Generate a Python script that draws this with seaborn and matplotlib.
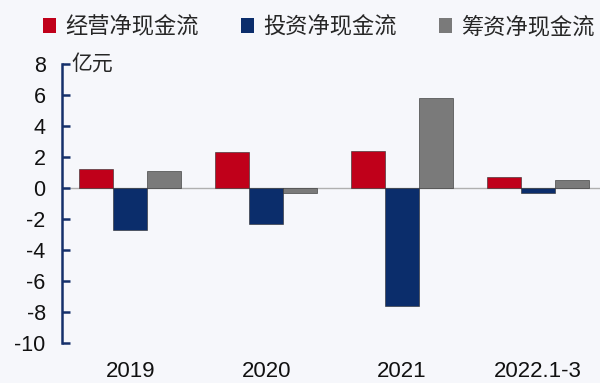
import matplotlib
matplotlib.use("Agg")
import matplotlib.pyplot as plt
import seaborn as sns
import pandas as pd
from matplotlib.patches import Patch

# Data (亿元)
periods = ["2019", "2020", "2021", "2022.1-3"]
series_names = ["经营净现金流", "投资净现金流", "筹资净现金流"]
operating = [1.2, 2.3, 2.4, 0.7]
investing = [-2.7, -2.3, -7.6, -0.3]
financing = [1.1, -0.3, 5.8, 0.5]
yticks = [8, 6, 4, 2, 0, -2, -4, -6, -8, -10]

colors = ["#c0001a", "#0b2d6b", "#7a7a7a"]

df = pd.DataFrame({
    "period": periods * 3,
    "series": [series_names[0]] * 4 + [series_names[1]] * 4 + [series_names[2]] * 4,
    "value": operating + investing + financing,
})

sns.set_theme(style="white")
plt.rcParams["font.family"] = ["Liberation Sans", "Noto Sans CJK SC", "DejaVu Sans"]
plt.rcParams["axes.unicode_minus"] = False
cjk = ["Noto Sans CJK SC", "DejaVu Sans"]

bg = "#f6f7fb"
axis_col = "#15306b"
fig = plt.figure(figsize=(6.0, 3.83), dpi=100, facecolor=bg)
ax = fig.add_axes([0.104, 0.104, 0.906, 0.729])
ax.set_facecolor(bg)

sns.barplot(data=df, x="period", y="value", hue="series", order=periods,
            hue_order=series_names, palette=colors, saturation=1, width=0.75, gap=0,
            edgecolor="#2a2a2a", linewidth=0.4, legend=False, ax=ax, errorbar=None)

ax.axhline(0, color="#b0b0b0", linewidth=1.0, zorder=0)
ax.set_xlim(-0.5, 3.5)
ax.set_ylim(-10, 8)
ax.set_yticks(yticks)
ax.set_yticklabels([str(t) for t in yticks], fontsize=15.5, color="#111111")
ax.set_xlabel("")
ax.set_ylabel("")
ax.tick_params(axis="x", bottom=False, length=0, labelsize=16, pad=13, colors="#111111")
ax.tick_params(axis="y", left=True, direction="in", length=6, width=1.8,
               color=axis_col, pad=12)

for side in ["top", "right", "bottom"]:
    ax.spines[side].set_visible(False)
ax.spines["left"].set_color(axis_col)
ax.spines["left"].set_linewidth(1.8)

ax.text(0.016, 8, "亿元", fontsize=15, va="center", ha="left",
        transform=ax.get_yaxis_transform(), family=cjk)

handles = [Patch(facecolor=c, edgecolor="none") for c in colors]
fig.legend(handles, series_names, loc="center", bbox_to_anchor=(0.532, 0.93),
           ncol=3, frameon=False, handlelength=0.55, handleheight=0.65,
           handletextpad=0.45, columnspacing=1.9,
           prop={"family": cjk, "size": 16})

fig.savefig("out.png", dpi=100, facecolor=bg)
